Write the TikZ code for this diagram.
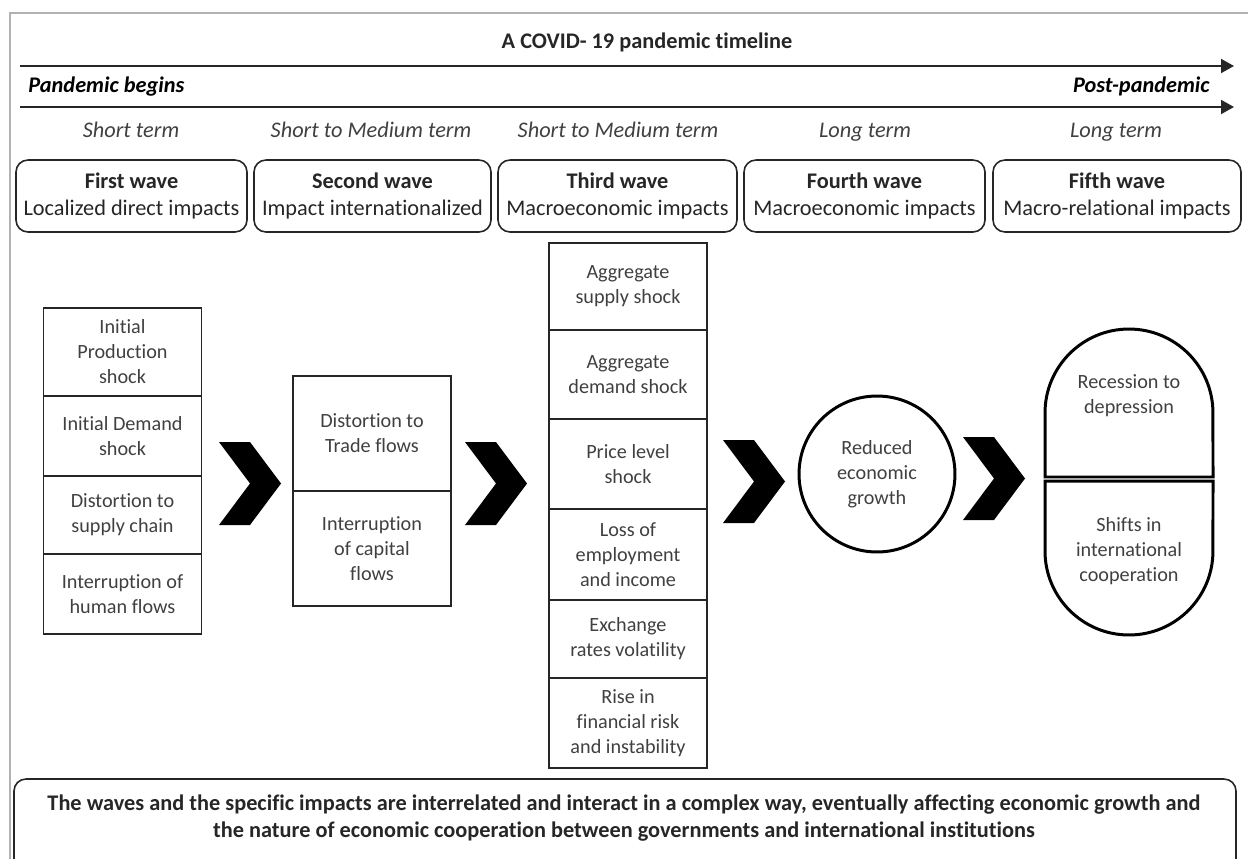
\documentclass[tikz,border=0pt]{standalone}
\usepackage{fontspec}
\setmainfont{Carlito}[Ligatures=NoCommon]
\usepackage{tikz}
\usetikzlibrary{arrows.meta, positioning, calc}
\newcommand{\tlfont}{\fontsize{12.7}{15.3}\selectfont}
\newcommand{\cellfont}{\fontsize{11.5}{14.2}\selectfont}
\definecolor{ink}{HTML}{262626}
\definecolor{cellink}{HTML}{404040}
\tikzset{
  cell/.style={draw=ink, line width=0.9pt, minimum width=3.16cm, align=center, font=\cellfont, text=cellink, inner sep=1pt},
  wave/.style={draw=ink, line width=0.9pt, rounded corners=0.24cm, minimum height=1.44cm, align=center, font=\tlfont, text=ink, inner sep=1pt},
  timeline/.style={draw=ink, line width=1.1pt, -{Triangle[length=0.26cm, width=0.28cm]}},
  bold outline/.style={draw=black, line width=1.7pt},
}

\begin{document}
\begin{tikzpicture}[x=0.02cm, y=-0.02cm, font=\tlfont]
  \useasboundingbox (0,0) rectangle (1248,859);
  % ================================================================
  % frame and timeline
  % ================================================================
  \draw[gray!60, line width=0.8pt] (1248,13) -- (10,13) -- (10,859);
  \node[font=\tlfont\bfseries, text=ink] (title) at (647,42) {A COVID- 19 pandemic timeline};
  \coordinate (top start) at (20,66);  \coordinate (top end) at (1234,66);
  \coordinate (low start) at (20,107); \coordinate (low end) at (1234,107);
  \draw[timeline] (top start) -- (top end);
  \draw[timeline] (low start) -- (low end);
  \node[font=\tlfont\bfseries\itshape, anchor=base west, inner sep=0pt] (begins) at (28,92) {Pandemic begins};
  \node[font=\tlfont\bfseries\itshape, anchor=base east, inner sep=0pt] (post) at (1210,92) {Post-pandemic};
  % terms -----------------------------------------------------------
  \foreach \n/\x/\txt in {term1/131/Short term, term2/371/Short to Medium term, term3/618/Short to Medium term, term4/865/Long term, term5/1116/Long term} {
    \node[font=\tlfont\itshape, text=cellink, anchor=base] (\n) at (\x,137) {\txt};
  }
  % waves -----------------------------------------------------------
  \foreach \n/\x/\w/\hh/\txt in {w1/131.5/231/First wave/Localized direct impacts, w2/372.5/237/Second wave/Impact internationalized, w3/617.5/239/Third wave/Macroeconomic impacts, w4/864.5/241/Fourth wave/Macroeconomic impacts, w5/1117/248/Fifth wave/Macro-relational impacts} {
    \node[wave, minimum width=\w*0.02cm] (\n) at (\x,196) {\textbf{\hh}\\\txt};
  }
  % ================================================================
  % impact stacks
  % ================================================================
  \foreach \n/\y/\hh/\txt in {c1a/352/88/Initial\\Production\\shock, c1b/436/80/Initial Demand\\shock, c1c/515/78/Distortion to\\supply chain, c1d/594/80/Interruption of\\human flows} {
    \node[cell, minimum height=\hh*0.02cm] (\n) at (122.5,\y) {\txt};
  }
  \foreach \n/\y/\hh/\txt in {c2a/433.5/115/Distortion to\\Trade flows, c2b/548.5/115/Interruption\\of capital\\flows} {
    \node[cell, minimum height=\hh*0.02cm] (\n) at (372,\y) {\txt};
  }
  \foreach \n/\y/\hh/\txt in {c3a/286.5/87/Aggregate\\supply shock, c3b/374.5/89/Aggregate\\demand shock, c3c/464/90/Price level\\shock, c3d/554.5/91/Loss of\\employment\\and income, c3e/639/78/Exchange\\rates volatility, c3f/723/90/Rise in\\financial risk\\and instability} {
    \node[cell, minimum height=\hh*0.02cm] (\n) at (628,\y) {\txt};
  }
  % growth circle ---------------------------------------------------
  \node[circle, bold outline, minimum size=3.12cm, align=center, font=\cellfont, text=cellink] (growth) at (877,474) {Reduced\\economic\\growth};
  % capsule ---------------------------------------------------------
  \draw[bold outline] (1045,477) -- (1045,413) arc[start angle=180, end angle=0, radius=1.68cm] -- (1213,477) -- cycle;
  \draw[bold outline] (1045,481) -- (1045,551) arc[start angle=180, end angle=360, radius=1.68cm] -- (1213,481) -- cycle;
  \node[font=\cellfont, text=cellink, align=center] (recession) at (1129,396) {Recession to\\depression};
  \node[font=\cellfont, text=cellink, align=center] (shifts) at (1129,551) {Shifts in\\international\\cooperation};
  % chevrons --------------------------------------------------------
  \foreach \cx/\cy in {219/442, 465/442, 723/440, 963/437} {
    \fill[black] (\cx,\cy) -- ++(31,0) -- ++(31,41.5) -- ++(-31,41.5) -- ++(-31,0) -- ++(31,-41.5) -- cycle;
  }
  % ================================================================
  % summary
  % ================================================================
  \draw[draw=ink, line width=0.9pt, rounded corners=0.24cm] (14,779) rectangle (1236,872);
  \node[font=\tlfont\bfseries, text=ink, align=center] (summary) at (624,818) {The waves and the specific impacts are interrelated and interact in a complex way, eventually affecting economic growth and\\the nature of economic cooperation between governments and international institutions};
\end{tikzpicture}
\end{document}
